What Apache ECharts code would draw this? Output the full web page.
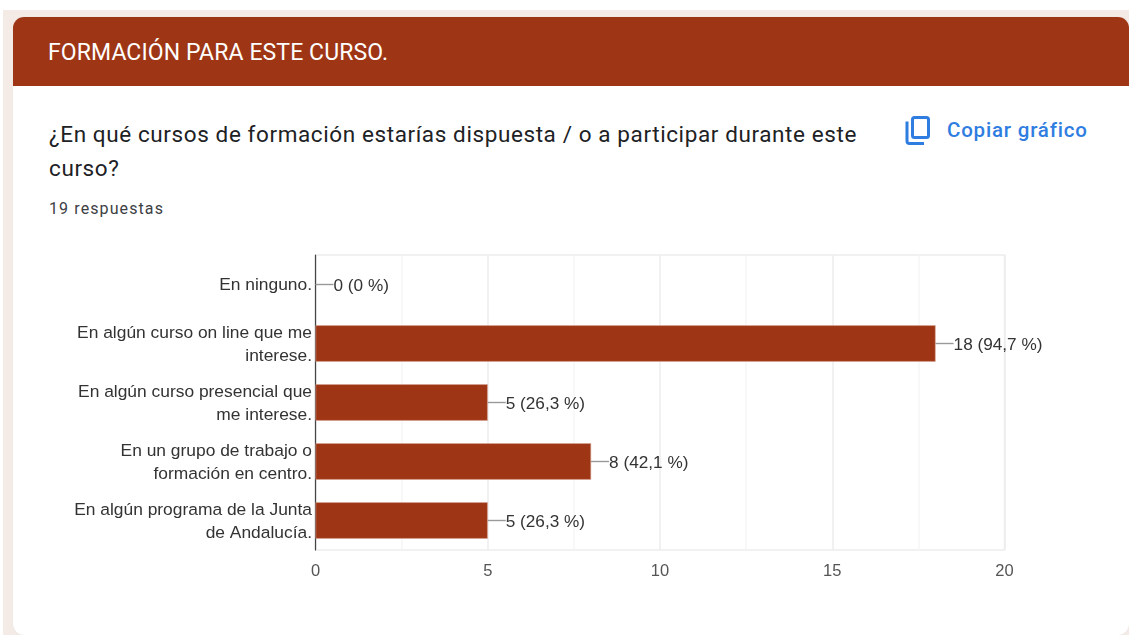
<!DOCTYPE html>
<html lang="es"><head><meta charset="utf-8">
<script src="https://cdn.jsdelivr.net/npm/echarts@6/dist/echarts.min.js"></script>
<style>
html,body{margin:0;padding:0;width:1129px;height:635px;overflow:hidden;background:#fff}
#bg{position:absolute;left:3px;top:10px;width:1126px;height:625px;background:#f4ebe6}
#card{position:absolute;left:13px;top:17px;width:1116px;height:618px;background:#fff;border-radius:11px;overflow:hidden;box-shadow:0 0 1px #d8d8d8}
#head{position:absolute;left:0;top:0;width:100%;height:69px;background:#9e3615;color:#fff;font:400 23px/1 Roboto,sans-serif;letter-spacing:.1px}
#head span{position:absolute;left:35px;top:24px}
.t{position:absolute;white-space:nowrap;font-family:Roboto,sans-serif}
#q{left:49px;top:117px;font-size:22.5px;line-height:34px;color:#202124;letter-spacing:.6px}
#n{left:49px;top:200px;font-size:16px;line-height:17px;color:#3c4043;letter-spacing:1.1px}
#c{left:947px;top:118.5px;font-size:20.5px;line-height:23px;font-weight:500;color:#2f7de1;letter-spacing:.8px}
#ico{position:absolute;left:904px;top:114px}
#chart{position:absolute;left:0;top:0;width:1129px;height:635px}
</style></head><body>
<div id="bg"></div>
<div id="card"><div id="head"><span>FORMACIÓN PARA ESTE CURSO.</span></div></div>
<div class="t" id="q">¿En qué cursos de formación estarías dispuesta / o a participar durante este<br>curso?</div>
<div class="t" id="n">19 respuestas</div>
<svg id="ico" width="28" height="32" viewBox="0 0 28 32" fill="none" stroke="#2f7de1" stroke-width="3"><path d="M3 7.5V27a2.5 2.5 0 0 0 2.5 2.5H20"/><rect x="8.5" y="3.5" width="16" height="20" rx="2"/></svg>
<div class="t" id="c">Copiar gráfico</div>
<div id="chart"></div>
<script>
const categories = ["En ninguno.", "En algún curso on line que me\ninterese.", "En algún curso presencial que\nme interese.", "En un grupo de trabajo o\nformación en centro.", "En algún programa de la Junta\nde Andalucía."];
const counts = [0, 18, 5, 8, 5];
const valueLabels = ["0 (0 %)", "18 (94,7 %)", "5 (26,3 %)", "8 (42,1 %)", "5 (26,3 %)"];
const xTicks = [0, 5, 10, 15, 20];
const chart = echarts.init(document.getElementById('chart'), null, {renderer:'canvas'});
chart.setOption({
  animation:false,
  backgroundColor:'transparent',
  textStyle:{fontFamily:'"Liberation Sans",Arial,sans-serif'},
  grid:{left:315.5,right:124.5,top:255,height:295,containLabel:false,show:true,borderColor:'#ededed',borderWidth:1.5},
  xAxis:{type:'value',min:xTicks[0],max:xTicks[xTicks.length-1],interval:5,
    axisLine:{show:false},axisTick:{show:false},
    splitLine:{show:true,lineStyle:{color:'#ececec',width:1.5}},
    minorTick:{show:false,splitNumber:2},
    minorSplitLine:{show:true,lineStyle:{color:'#f6f6f6',width:1.5}},
    axisLabel:{color:'#555',fontSize:16.5,margin:13}},
  yAxis:{type:'category',inverse:true,data:categories,
    axisLine:{show:true,lineStyle:{color:'#444',width:1.2}},axisTick:{show:false},
    axisLabel:{align:'right',margin:3.5,
      formatter:v=>v.split('\n').map(s=>'{l|'+s+'}').join('\n'),
      rich:{l:{color:'#333',fontSize:17.4,lineHeight:23,padding:[2,0,0,0],align:'right'}}}},
  series:[{type:'bar',data:counts.map(v=>v===0?{value:v,itemStyle:{borderWidth:0}}:v),barWidth:36.5,
    itemStyle:{color:'#9e3615',borderColor:'#d9a595',borderWidth:.6},
    label:{show:true,position:'right',distance:0,
      formatter:p=>'{v|'+valueLabels[p.dataIndex]+'}',
      rich:{v:{color:'#333',fontSize:17.2,lineHeight:20,padding:[4,0,0,0]}}},
    labelLayout:{dx:18},
    labelLine:{show:true,lineStyle:{color:'#999',width:1.4}}}]
});
</script>
</body></html>
